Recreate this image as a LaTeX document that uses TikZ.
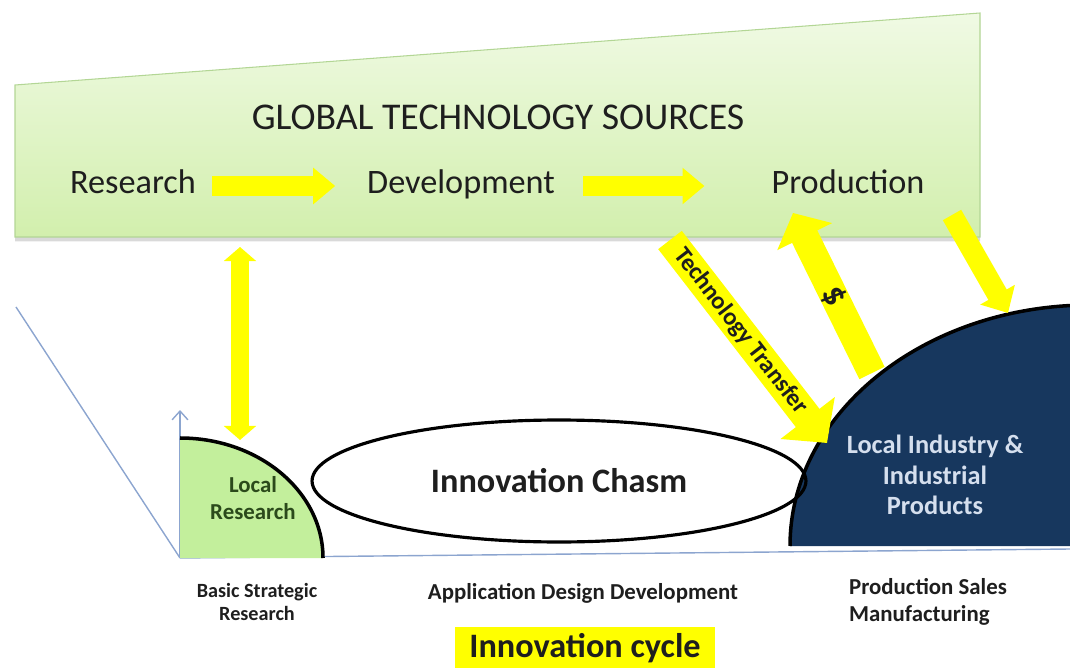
\documentclass[tikz,border=0pt]{standalone}
\usepackage{fontspec}
\setmainfont{Carlito}
\usetikzlibrary{calc,positioning,arrows.meta,shapes.geometric,shadows}

\definecolor{boxtop}{HTML}{F0FAE4}
\definecolor{boxbottom}{HTML}{D2EFAD}
\definecolor{boxline}{HTML}{B3D695}
\definecolor{navy}{HTML}{17375E}
\definecolor{navytext}{HTML}{D5DFEE}
\definecolor{localgreen}{HTML}{C3EF9C}
\definecolor{localtext}{HTML}{2B4A1B}
\definecolor{axisblue}{HTML}{8CA5CF}
\definecolor{hiyellow}{HTML}{FFFF00}
\definecolor{inktext}{HTML}{1E1E1E}

\tikzset{
  stage/.style={inner sep=0pt, anchor=base, text=inktext, font=\fontsize{19.5}{23}\selectfont},
  flow/.style={draw=hiyellow, line width=11pt, -{Triangle[length=12.5pt,width=20pt]}},
  updown/.style={draw=hiyellow, line width=10pt, {Triangle[length=8pt,width=18pt]}-{Triangle[length=8pt,width=18pt]}},
  transfer/.style={draw=hiyellow, line width=17pt, -{Triangle[length=18pt,width=38pt]}},
  feed/.style={draw=hiyellow, line width=12pt, -{Triangle[length=12pt,width=22pt]}},
  axis/.style={draw=axisblue, line width=0.8pt},
  caption/.style={text=inktext, font=\bfseries\fontsize{13}{15}\selectfont},
}

\begin{document}
\begin{tikzpicture}[x=0.02cm,y=-0.02cm]
    \useasboundingbox (0,0) rectangle (1070,668);
    %
    \draw[draw=boxline, line width=0.6pt, top color=boxtop, bottom color=boxbottom,
          drop shadow={shadow xshift=0pt, shadow yshift=-2.5pt, opacity=0.3}]
        (15,85) -- (980,13) -- (980,237) -- (15,237) -- cycle;
    \node[text=inktext, font=\fontsize{21.5}{26}\selectfont] (global_title) at (498,117) {GLOBAL TECHNOLOGY SOURCES};
    \node[stage] (Research) at (133,194) {Research};
    \node[stage] (Development) at (461,194) {Development};
    \node[stage] (Production) at (848,194) {Production};
    \draw[flow, shorten <=9pt, shorten >=18pt] (Research.east |- 0,186) -- (Development.west |- 0,186);
    \draw[flow, shorten <=16pt, shorten >=38pt] (Development.east |- 0,186) -- (Production.west |- 0,186);
    %
    % axes of the innovation cycle
    \coordinate (origin) at (180,558);
    \coordinate (axis_top) at (180,410);
    \coordinate (axis_right) at (1070,549);
    \coordinate (axis_far) at (16,307);
    \draw[axis] (origin) -- (axis_far);
    \draw[axis] (origin) -- (axis_right);
    \draw[axis, -{Straight Barb[length=5pt,width=9pt]}] (origin) -- (axis_top);
    %
    % local research
    \fill[localgreen] (origin) -- (323,558) arc[start angle=0, end angle=-90, x radius=143, y radius=120] -- cycle;
    \draw[line width=2pt] (323,558) arc[start angle=0, end angle=-90, x radius=143, y radius=120];
    \node[align=center, text=localtext, font=\bfseries\fontsize{13}{15.5}\selectfont] (local_research) at (253,498) {Local\\Research};
    %
    % local industry
    \fill[navy] (790,546) arc[start angle=180, end angle=266.2, x radius=300, y radius=241] -- (1070,546) -- cycle;
    \draw[line width=2pt] (790,546) arc[start angle=180, end angle=266.2, x radius=300, y radius=241];
    \node[align=center, text=navytext, font=\bfseries\fontsize{15}{17.5}\selectfont] (industry) at (935,475) {Local Industry \&\\Industrial\\Products};
    %
    \node[draw, ellipse, line width=1.8pt, minimum width=9.88cm, minimum height=2.44cm, inner sep=0pt,
          text=inktext, font=\bfseries\fontsize{19.5}{23}\selectfont] (chasm) at (559,481) {Innovation Chasm};
    %
    % links to the global sources
    \coordinate (link_top) at (240,247);
    \coordinate (link_bottom) at (240,440);
    \draw[updown] (link_top) -- (link_bottom);
    \coordinate (tt_start) at (670,240);
    \coordinate (tt_end) at (827,443);
    \draw[transfer] (tt_start) -- node[sloped, pos=0.45, text=inktext, font=\bfseries\fontsize{14}{16}\selectfont] {Technology Transfer} (tt_end);
    \coordinate (pay_start) at (872,373);
    \coordinate (pay_end) at (793,213);
    \draw[transfer, line width=16pt, -{Triangle[length=15pt,width=34pt]}] (pay_start) -- node[sloped, pos=0.48, text=inktext, font=\bfseries\fontsize{20}{22}\selectfont] {\$} (pay_end);
    \coordinate (feed_start) at (952,215);
    \coordinate (feed_end) at (1008,313);
    \draw[feed] (feed_start) -- (feed_end);
    %
    \node[caption, align=center, font=\bfseries\fontsize{11.5}{13.5}\selectfont] (basic) at (257,602) {Basic Strategic\\Research};
    \node[caption] (application) at (583,593) {Application Design Development};
    \node[caption, align=left] (manufacturing) at (928,602) {Production Sales\\Manufacturing};
    \node[fill=hiyellow, minimum width=5.2cm, minimum height=0.84cm, text=inktext,
          font=\bfseries\fontsize{19.5}{23}\selectfont] (cycle) at (585,648) {Innovation cycle};
\end{tikzpicture}
\end{document}
